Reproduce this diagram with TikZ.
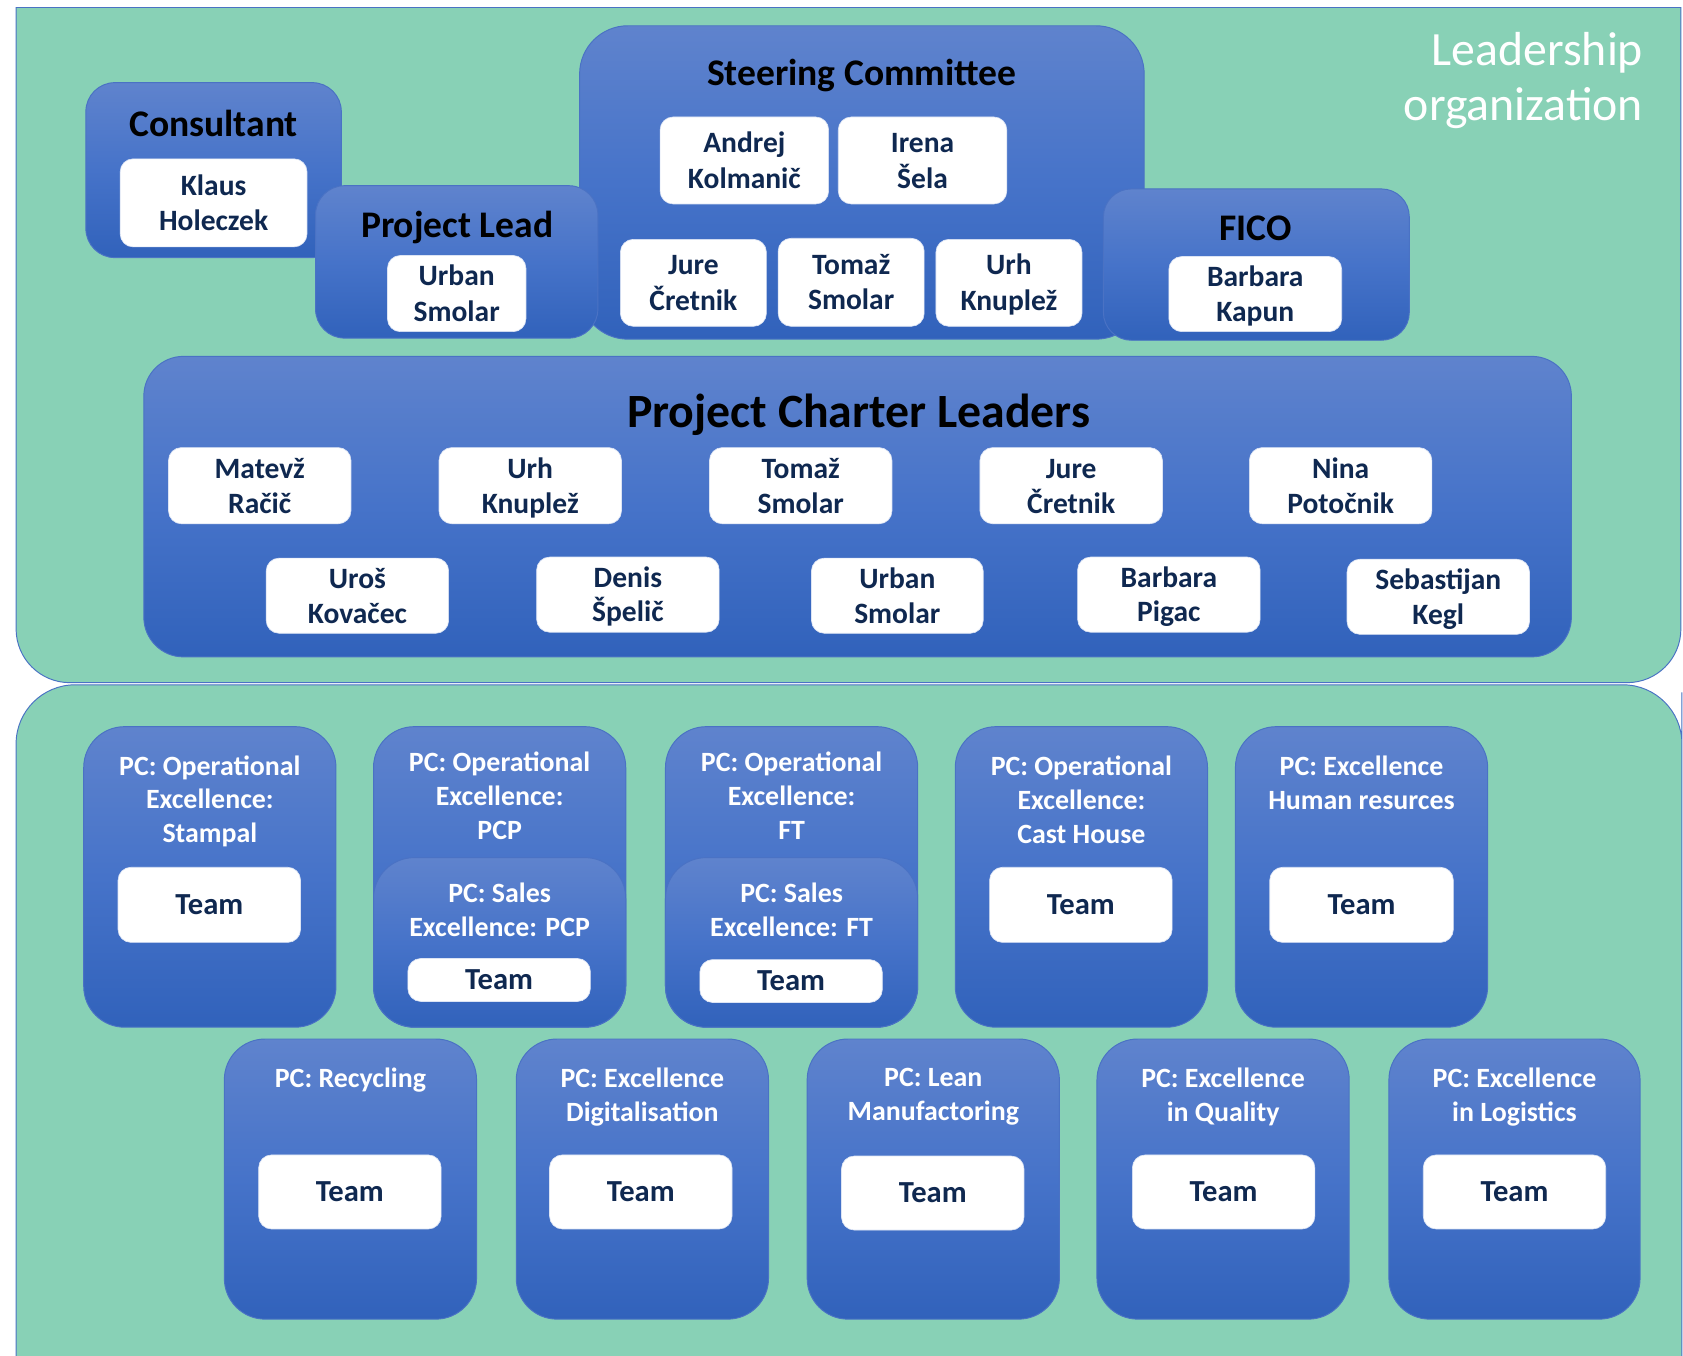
\documentclass[tikz,border=0pt]{standalone}
\usepackage{fontspec}
\setmainfont{Carlito}

\definecolor{panelgreen}{HTML}{88D1B6}
\definecolor{edgeblue}{HTML}{4A72C4}
\definecolor{boxtop}{HTML}{5F83CD}
\definecolor{boxmid}{HTML}{4673C9}
\definecolor{boxbot}{HTML}{3162BB}
\definecolor{navy}{HTML}{0F2850}
\definecolor{whiteedge}{HTML}{DCE4F4}

% invisible strut giving every card line the same height and depth
\newcommand\cardstrut{\rule[-6.6pt]{0pt}{31.6pt}}
% two-line card text
\newcommand\twol[2]{\cardstrut #1\\#2\cardstrut}

% blue container: [extra]{style}{name}{x1}{y1}{x2}{y2}
\newcommand\orgbox[7][]{%
  \node[#2, minimum width={#6-#4}, minimum height={#7-#5}, #1] (#3) at ({(#4+#6)/2},{(#5+#7)/2}) {};}
% white card: [extra]{name}{x1}{y1}{x2}{y2}{text}
\newcommand\namebox[7][]{%
  \node[namecard, minimum width={#5-#3}, minimum height={#6-#4}, #1] (#2) at ({(#3+#5)/2},{(#4+#6)/2}) {#7};}

\tikzset{
  panel/.style={fill=panelgreen, draw=edgeblue, line width=0.9pt},
  bluebox/.style={draw=edgeblue, line width=0.9pt, top color=boxtop, bottom color=boxbot,
    middle color=boxmid, rounded corners=#1, inner sep=0pt, outer sep=0pt},
  bluebox/.default=38pt,
  namecard/.style={fill=white, draw=whiteedge, line width=0.6pt, rounded corners=12pt,
    inner sep=0pt, align=center, text=navy, font=\bfseries\fontsize{27.5}{33}\selectfont},
  teamcard/.style={font=\bfseries\fontsize{28.5}{33}\selectfont},
  headtext/.style={text=black, font=\bfseries\fontsize{35}{42}\selectfont, inner sep=0pt, anchor=base},
  pctext/.style={text=white, align=center, inner sep=0pt, font=\bfseries\fontsize{26}{31.5}\selectfont},
}

\begin{document}
\begin{tikzpicture}[x=1pt, y=-1pt]
\useasboundingbox (0,0) rectangle (1568,1263);
\fill[white] (0,0) rectangle (1568,1263);

% ---------- panels ----------
\path[panel] (15,7) -- (1566,7) -- (1566,400) [rounded corners=50pt] -- (1566,636) -- (15,636)
  -- (15,400) [sharp corners] -- cycle;
\path[panel] (15,1300) -- (15,700) [rounded corners=55pt] -- (15,638) -- (1567,638)
  -- (1567,700) [sharp corners] -- (1567,1300) -- cycle;

\node[text=white, align=right, inner sep=0pt, anchor=east,
      font=\fontsize{44.5}{52}\selectfont] (caption) at (1531,75) {Leadership\\organization};

% ---------- leadership ----------
\orgbox{bluebox=27pt}{consultant}{80}{77}{318}{240}
\node[headtext] (consultant-t) at (199,127) {Consultant};
\namebox{klaus}{112}{148}{286}{230}{\twol{Klaus}{Holeczek}}

\orgbox{bluebox=45pt}{steering}{540}{24}{1066}{316}
\node[headtext] (steering-t) at (803,79.5) {Steering Committee};
\namebox{andrej}{615}{109}{772}{190}{\twol{Andrej}{Kolmanič}}
\namebox{irena}{781}{109}{938}{190}{\twol{Irena}{Šela}}
\namebox{jure}{578}{223}{714}{304}{\twol{Jure}{Čretnik}}
\namebox{tomaz}{725}{222}{861}{304}{\twol{Tomaž}{Smolar}}
\namebox{urh}{872}{223}{1008}{304}{\twol{Urh}{Knuplež}}

\orgbox{bluebox=27pt}{lead}{294}{173}{557}{315}
\node[headtext] (lead-t) at (426,221.5) {Project Lead};
\namebox{urban}{361}{238}{490}{309}{\twol{Urban}{Smolar}}

\orgbox{bluebox=26pt}{fico}{1028}{176}{1313}{317}
\node[headtext] (fico-t) at (1170,224) {FICO};
\namebox{barbara}{1089}{239}{1250}{309}{\twol{Barbara}{Kapun}}

% ---------- project charter leaders ----------
\orgbox{bluebox=37pt}{pcl}{134}{332}{1464}{612}
\node[headtext, font=\bfseries\fontsize{44.5}{52}\selectfont] (pcl-t) at (800,398) {Project Charter Leaders};
\tikzset{namecard/.append style={font=\bfseries\fontsize{27.5}{32.5}\selectfont}}
\namebox{l1}{157}{417}{327}{488}{\twol{Matevž}{Račič}}
\namebox{l2}{409}{417}{579}{488}{\twol{Urh}{Knuplež}}
\namebox{l3}{661}{417}{831}{488}{\twol{Tomaž}{Smolar}}
\namebox{l4}{913}{417}{1083}{488}{\twol{Jure}{Čretnik}}
\namebox{l5}{1164}{417}{1334}{488}{\twol{Nina}{Potočnik}}
\namebox{l6}{248}{520}{418}{590}{\twol{Uroš}{Kovačec}}
\namebox{l7}{500}{519}{670}{589}{\twol{Denis}{Špelič}}
\namebox{l8}{756}{520}{916}{590}{\twol{Urban}{Smolar}}
\namebox{l9}{1004}{519}{1174}{589}{\twol{Barbara}{Pigac}}
\namebox{l10}{1255}{521}{1425}{591}{\twol{Sebastijan}{Kegl}}

% ---------- project charters, first row ----------
\orgbox{bluebox}{pc1}{78}{677}{313}{957}
\node[pctext] (pc1-t) at (195.5,746.5) {PC: Operational\\Excellence:\\Stampal};
\namebox[teamcard]{pc1-team}{110}{808}{280}{878}{\cardstrut Team}

\orgbox{bluebox}{pc2}{348}{677}{583}{957}
\node[pctext] (pc2-t) at (465.5,741.5) {PC: Operational\\Excellence:\\PCP};
\orgbox{bluebox}{pc2s}{348}{799}{583}{957}
\node[pctext] (pc2s-t) at (465.5,848) {PC: Sales\\Excellence: PCP};
\namebox[teamcard]{pc2-team}{380}{893}{550}{933}{\cardstrut Team}

\orgbox{bluebox}{pc3}{620}{677}{855}{957}
\node[pctext] (pc3-t) at (737.5,741.5) {PC: Operational\\Excellence:\\FT};
\orgbox{bluebox}{pc3s}{620}{799}{855}{957}
\node[pctext] (pc3s-t) at (737.5,848) {PC: Sales\\Excellence: FT};
\namebox[teamcard]{pc3-team}{652}{894}{822}{934}{\cardstrut Team}

\orgbox{bluebox}{pc4}{890}{677}{1125}{957}
\node[pctext] (pc4-t) at (1007.5,745) {PC: Operational\\Excellence:\\Cast House};
\namebox[teamcard]{pc4-team}{922}{808}{1092}{878}{\cardstrut Team}

\orgbox{bluebox}{pc5}{1151}{677}{1386}{957}
\node[pctext] (pc5-t) at (1268.5,729.5) {PC: Excellence\\Human resurces};
\namebox[teamcard]{pc5-team}{1183}{808}{1354}{878}{\cardstrut Team}

% ---------- project charters, second row ----------
\orgbox{bluebox}{pc6}{209}{968}{444}{1229}
\node[pctext, anchor=base] (pc6-t) at (326.5,1013) {PC: Recycling};
\namebox[teamcard]{pc6-team}{241}{1076}{411}{1145}{\cardstrut Team}

\orgbox{bluebox}{pc7}{481}{968}{716}{1229}
\node[pctext] (pc7-t) at (598.5,1022) {PC: Excellence\\Digitalisation};
\namebox[teamcard]{pc7-team}{512}{1076}{682}{1145}{\cardstrut Team}

\orgbox{bluebox}{pc8}{752}{968}{987}{1229}
\node[pctext] (pc8-t) at (869.5,1022) {PC: Lean\\Manufactoring};
\namebox[teamcard]{pc8-team}{784}{1077}{954}{1146}{\cardstrut Team}

\orgbox{bluebox}{pc9}{1022}{968}{1257}{1229}
\node[pctext] (pc9-t) at (1139.5,1022) {PC: Excellence\\in Quality};
\namebox[teamcard]{pc9-team}{1055}{1076}{1225}{1145}{\cardstrut Team}

\orgbox{bluebox}{pc10}{1294}{968}{1528}{1229}
\node[pctext] (pc10-t) at (1411,1022) {PC: Excellence\\in Logistics};
\namebox[teamcard]{pc10-team}{1326}{1076}{1496}{1145}{\cardstrut Team}
\end{tikzpicture}
\end{document}
